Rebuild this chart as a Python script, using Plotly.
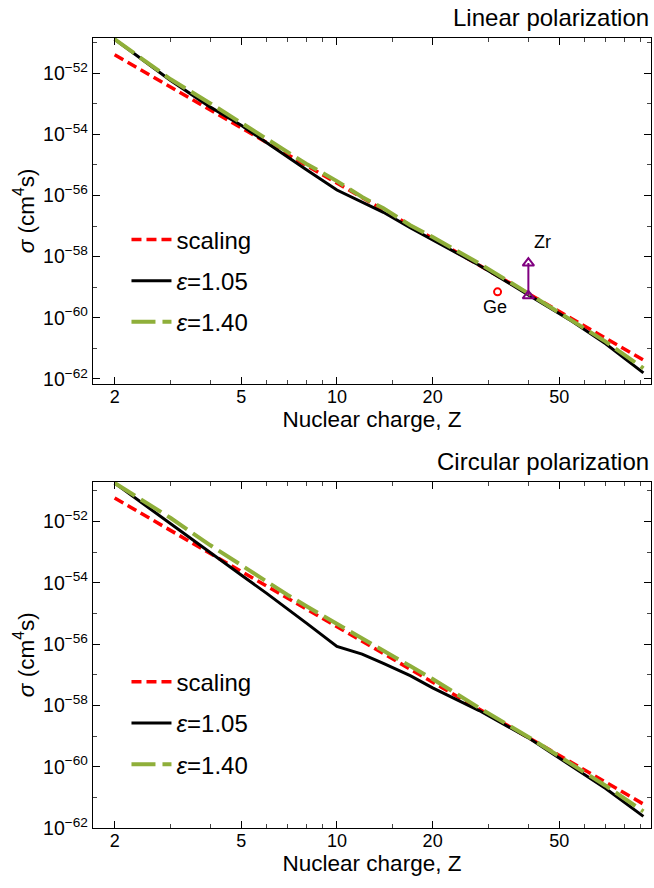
import numpy as np
import plotly.graph_objects as go

# ---------------- data (log10 of sigma) ----------------
Z = [2, 3, 4, 5, 6, 7, 8, 10, 12, 14, 17, 20, 28, 40, 55, 70, 92]

lin_black = [-50.89, -52.24, -53.11, -53.70, -54.27, -54.75, -55.15, -55.82, -56.21,
             -56.55, -57.05, -57.45, -58.28, -59.25, -60.12, -60.85, -61.80]
lin_green = [-50.89, -52.20, -52.99, -53.62, -54.11, -54.55, -54.96, -55.53, -56.05,
             -56.42, -56.97, -57.36, -58.22, -59.20, -60.08, -60.78, -61.65]
Z_scal = [2, 5, 10, 20, 50, 92]
lin_scal = [-51.40, -53.79, -55.59, -57.40, -59.79, -61.38]

circ_black = [-50.75, -52.09, -53.04, -53.75, -54.34, -54.85, -55.31, -56.08, -56.33,
              -56.63, -57.03, -57.43, -58.17, -59.06, -60.01, -60.71, -61.62]
circ_green = [-50.75, -51.89, -52.78, -53.44, -53.98, -54.40, -54.76, -55.33, -55.81,
              -56.21, -56.72, -57.14, -58.08, -59.03, -59.95, -60.62, -61.46]
circ_scal = [-51.24, -53.63, -55.43, -57.24, -59.63, -61.22]

ge_Z, ge_logsig = [32], [-59.15]
zr_Z, zr_logsig = [40, 40], [-59.28, -58.21]

major_x = [2, 5, 10, 20, 50]
minor_x = [3, 4, 6, 7, 8, 9, 15, 30, 40, 60, 70, 80, 90]
major_y_exp = [-62, -60, -58, -56, -54, -52]
minor_y_exp = [-61, -59, -57, -55, -53, -51]

RED = "#FF0000"
GREEN = "#8FAF3A"
PURPLE = "#800080"
FONT = "Liberation Sans"


def p10(v):
    return [10.0 ** x for x in v]


fig = go.Figure()

panels = [("x", "y", "legend", lin_scal, lin_black, lin_green),
          ("x2", "y2", "legend2", circ_scal, circ_black, circ_green)]
for xa, ya, leg, sc, bl, gr in panels:
    fig.add_trace(go.Scatter(x=Z_scal, y=p10(sc), mode="lines", name="scaling",
                             line=dict(color=RED, width=3.5, dash="10px,5px"),
                             xaxis=xa, yaxis=ya, legend=leg, legendgroup=leg + "a"))
    fig.add_trace(go.Scatter(x=Z, y=p10(bl), mode="lines", name="<i>ε</i>=1.05",
                             line=dict(color="black", width=3),
                             xaxis=xa, yaxis=ya, legend=leg, legendgroup=leg + "b"))
    fig.add_trace(go.Scatter(x=Z, y=p10(gr), mode="lines", name="<i>ε</i>=1.40",
                             line=dict(color=GREEN, width=4, dash="24px,7px"),
                             xaxis=xa, yaxis=ya, legend=leg, legendgroup=leg + "c"))

# Ge point and Zr range (top panel)
fig.add_trace(go.Scatter(x=ge_Z, y=p10(ge_logsig), mode="markers", showlegend=False,
                         marker=dict(symbol="circle-open", size=7, color=RED,
                                     line=dict(width=2, color=RED)),
                         xaxis="x", yaxis="y"))
fig.add_trace(go.Scatter(x=zr_Z, y=p10(zr_logsig), mode="lines+markers", showlegend=False,
                         line=dict(color=PURPLE, width=2),
                         marker=dict(symbol="triangle-up-open", size=10, color=PURPLE,
                                     line=dict(width=2, color=PURPLE)),
                         xaxis="x", yaxis="y"))

xcommon = dict(type="log", range=[np.log10(1.71), np.log10(97.2)],
               tickvals=major_x, ticktext=[str(v) for v in major_x],
               ticks="inside", ticklen=7, tickwidth=1, tickcolor="black",
               showline=True, linecolor="black", linewidth=1.3, mirror="ticks",
               showgrid=False, zeroline=False, ticklabelstandoff=-4,
               minor=dict(tickvals=minor_x, ticks="inside", ticklen=4, tickcolor="#444",
                          showgrid=False),
               tickfont=dict(family=FONT, size=18, color="black"),
               title=dict(text="Nuclear charge, Z", font=dict(family=FONT, size=22.5, color="black"),
                          standoff=0))
ycommon = dict(type="log",
               tickvals=[10.0 ** e for e in major_y_exp],
               ticktext=["10<sup>−%d</sup>" % (-e) for e in major_y_exp],
               ticks="inside", ticklen=7, tickwidth=1, tickcolor="black",
               showline=True, linecolor="black", linewidth=1.3, mirror="ticks",
               showgrid=False, zeroline=False,
               minor=dict(tickvals=[10.0 ** e for e in minor_y_exp], ticks="inside",
                          ticklen=4, tickcolor="#444", showgrid=False),
               tickfont=dict(family=FONT, size=19.5, color="black"),
               title=dict(text="<i>σ</i> (cm<sup>4</sup>s)",
                          font=dict(family=FONT, size=22.5, color="black"), standoff=2))

top_dom = [0.5622, 1.0]
bot_dom = [0.0, 0.4386]

fig.update_layout(
    width=654, height=888,
    margin=dict(l=93, r=3, t=38, b=60),
    paper_bgcolor="white", plot_bgcolor="white",
    xaxis=dict(xcommon, anchor="y", domain=[0, 1]),
    yaxis=dict(ycommon, anchor="x", domain=top_dom, range=[-62.16, -50.85]),
    xaxis2=dict(xcommon, anchor="y2", domain=[0, 1]),
    yaxis2=dict(ycommon, anchor="x2", domain=bot_dom, range=[-62.0, -50.7]),
    legend=dict(x=0.06, y=0.773, xanchor="left", yanchor="top", bgcolor="rgba(0,0,0,0)",
                itemwidth=40,
                font=dict(family=FONT, size=24, color="black"), tracegroupgap=7),
    legend2=dict(x=0.06, y=0.213, xanchor="left", yanchor="top", bgcolor="rgba(0,0,0,0)",
                 itemwidth=40,
                 font=dict(family=FONT, size=24, color="black"), tracegroupgap=7),
    annotations=[
        dict(text="Linear polarization", xref="paper", yref="paper", x=1.0, y=1.0256,
             xanchor="right", yanchor="middle", showarrow=False,
             font=dict(family=FONT, size=24, color="black")),
        dict(text="Circular polarization", xref="paper", yref="paper", x=1.0, y=0.4635,
             xanchor="right", yanchor="middle", showarrow=False,
             font=dict(family=FONT, size=24, color="black")),
        dict(text="Ge", xref="x", yref="y", x=np.log10(31.5), y=-59.65, showarrow=False,
             font=dict(family=FONT, size=18, color="black")),
        dict(text="Zr", xref="x", yref="y", x=np.log10(44.3), y=-57.53, showarrow=False,
             font=dict(family=FONT, size=18, color="black")),
    ],
)

fig.write_html("out.html", config={"displayModeBar": False},
               post_script="document.body.style.margin='0';")
